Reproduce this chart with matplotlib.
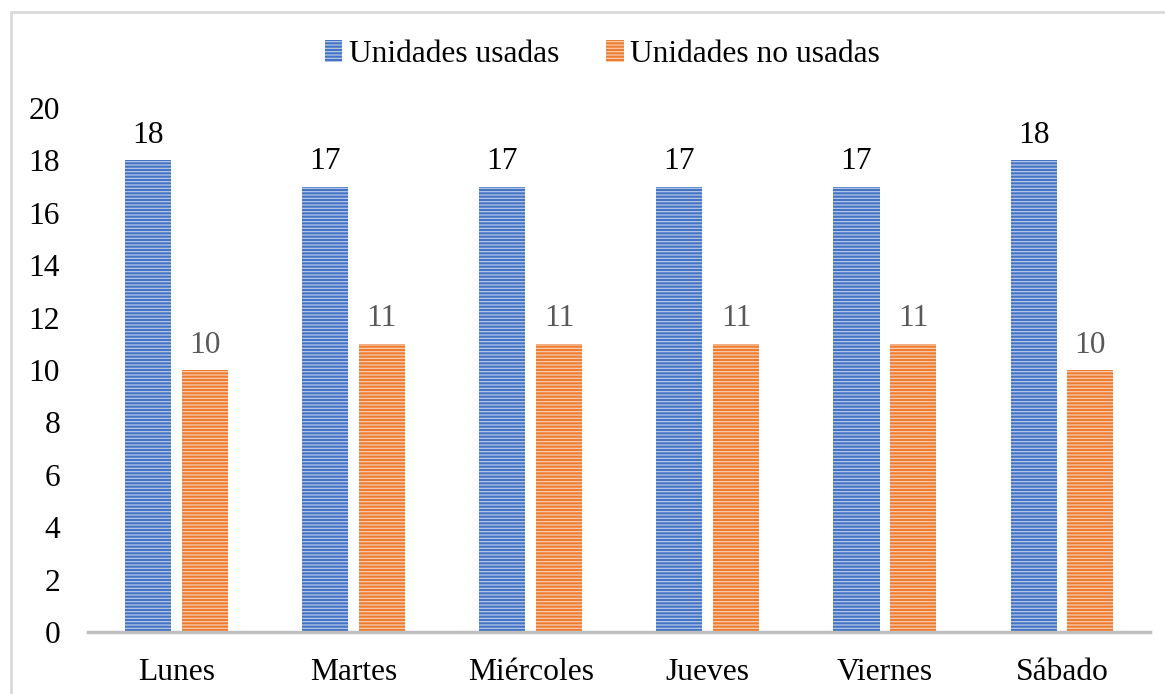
import matplotlib.pyplot as plt
import numpy as np
from matplotlib.patches import Rectangle

plt.rcParams['font.family'] = ['Liberation Serif', 'DejaVu Serif']
plt.rcParams['hatch.linewidth'] = 0.9

dias = ['Lunes', 'Martes', 'Miércoles', 'Jueves', 'Viernes', 'Sábado']
usadas = [18, 17, 17, 17, 17, 18]
no_usadas = [10, 11, 11, 11, 11, 10]

azul = '#4472C4'
naranja = '#ED7D31'
fs = 22.7

fig = plt.figure(figsize=(11.65, 6.94), dpi=100)
ax = fig.add_axes([0.0755, 0.0893, 0.912, 0.7551])

# marco gris alrededor del grafico
fig.patches.append(Rectangle((11 / 1165, -0.05), 1.1, 1 - 12 / 694 + 0.05,
                             transform=fig.transFigure, fill=False,
                             edgecolor='#D9D9D9', linewidth=2))

x = np.arange(len(dias))
w = 0.26
b1 = ax.bar(x - 0.16, usadas, w, color=azul, edgecolor='#B4C7E7',
            linewidth=0, hatch='-----', label='Unidades usadas')
b2 = ax.bar(x + 0.16, no_usadas, w, color=naranja, edgecolor='#F8CBAD',
            linewidth=0, hatch='-----', label='Unidades no usadas')

for rect, v in zip(b1, usadas):
    ax.text(rect.get_x() + rect.get_width() / 2, v + 0.4, str(v),
            ha='center', va='bottom', fontsize=fs, color='black')
for rect, v in zip(b2, no_usadas):
    ax.text(rect.get_x() + rect.get_width() / 2, v + 0.4, str(v),
            ha='center', va='bottom', fontsize=fs, color='#595959')

ax.set_xlim(-0.5, len(dias) - 0.5)
ax.set_ylim(0, 20)
ax.set_yticks(range(0, 21, 2))
ax.set_xticks(x)
ax.set_xticklabels(dias)
ax.tick_params(axis='both', length=0, labelsize=fs)
ax.tick_params(axis='x', pad=19)
ax.tick_params(axis='y', pad=20)

for s in ['top', 'right', 'left']:
    ax.spines[s].set_visible(False)
ax.spines['bottom'].set_color('#BFBFBF')
ax.spines['bottom'].set_linewidth(2.5)

fig.legend(loc='center', bbox_to_anchor=(0.517, 0.922), ncol=2, frameon=False,
           fontsize=fs, handlelength=0.55, handleheight=0.7, handletextpad=0.2,
           columnspacing=1.5)

fig.savefig('out.png', dpi=100)
